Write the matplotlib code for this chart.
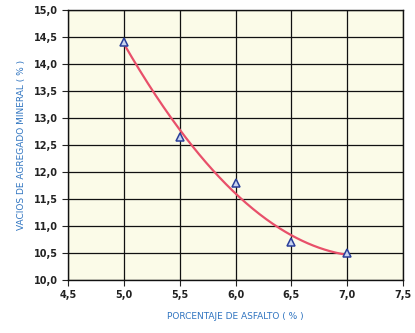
import numpy as np
import matplotlib
matplotlib.use("Agg")
import matplotlib.pyplot as plt

asfalto = [5.0, 5.5, 6.0, 6.5, 7.0]
vma = [14.4, 12.65, 11.8, 10.7, 10.5]
xticks = [4.5, 5.0, 5.5, 6.0, 6.5, 7.0, 7.5]
yticks = [10.0, 10.5, 11.0, 11.5, 12.0, 12.5, 13.0, 13.5, 14.0, 14.5, 15.0]

fig = plt.figure(figsize=(4.15, 3.33), dpi=100)
fig.patch.set_facecolor("white")
ax = fig.add_axes([0.165, 0.159, 0.805, 0.811])
ax.set_facecolor("#fbfbe8")

coef = np.polyfit(asfalto, vma, 2)
xs = np.linspace(min(asfalto), max(asfalto), 200)
ax.plot(xs, np.polyval(coef, xs), color="#e8506a", lw=1.6, zorder=3)
ax.plot(asfalto, vma, linestyle="none", marker="^", markersize=5.5,
        markerfacecolor="#c8d4f0", markeredgecolor="#2a3f9a", markeredgewidth=1.1, zorder=4)

ax.set_xlim(4.5, 7.5)
ax.set_ylim(10.0, 15.0)
ax.set_xticks(xticks)
ax.set_yticks(yticks)
ax.set_xticklabels([f"{v:.1f}".replace(".", ",") for v in xticks])
ax.set_yticklabels([f"{v:.1f}".replace(".", ",") for v in yticks])
ax.grid(True, color="#111111", lw=0.9)
ax.set_axisbelow(True)
for s in ax.spines.values():
    s.set_color("#111111")
    s.set_linewidth(1.0)
ax.tick_params(labelsize=7, colors="#222222", length=4, direction="out")
for lab in ax.get_xticklabels() + ax.get_yticklabels():
    lab.set_fontweight("bold")

ax.set_xlabel("PORCENTAJE DE ASFALTO ( % )", fontsize=6.5, color="#2f74c0", labelpad=8)
ax.set_ylabel("VACIOS DE AGREGADO MINERAL ( % )", fontsize=6.5, color="#2f74c0", labelpad=6)

fig.savefig("out.png", dpi=100)
